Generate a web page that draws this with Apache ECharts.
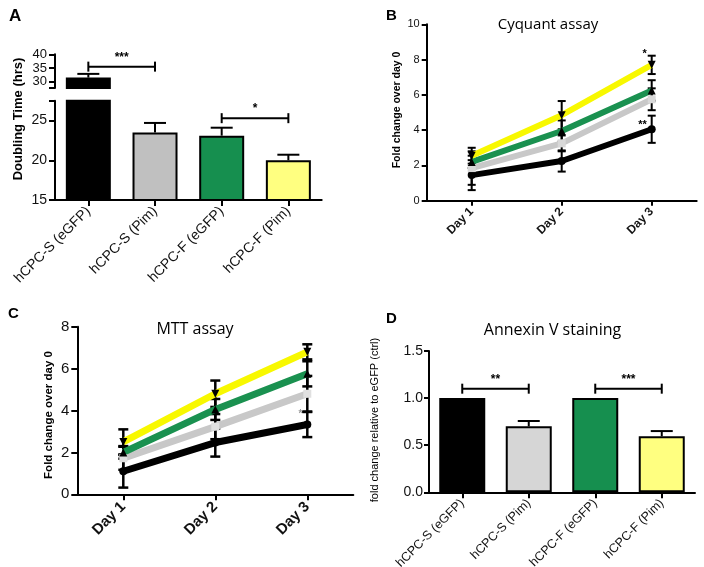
<!DOCTYPE html>
<html><head><meta charset="utf-8">
<script src="https://cdn.jsdelivr.net/npm/echarts@6/dist/echarts.min.js"></script>
<style>html,body{margin:0;padding:0;background:#fff}#c{width:704px;height:567px}</style>
</head><body><div id="c"></div>
<script>
// ---------- DATA ----------
const barCategories = ['hCPC-S (eGFP)', 'hCPC-S (Pim)', 'hCPC-F (eGFP)', 'hCPC-F (Pim)'];
const dayCategories = ['Day 1', 'Day 2', 'Day 3'];

// Panel A: doubling time (hrs)
const doublingTime = [31.5, 23.5, 23.1, 20.0];
const doublingErr = [1.35, 1.2, 1.0, 0.7];
const doublingUpperTicks = [30, 35, 40];
const doublingLowerTicks = [15, 20, 25];
const doublingSigPairs = [[0, 1], [2, 3]];
const doublingSigLevel = [35.5, 25.3];
const doublingSigText = ['***', '*'];

// Panel B: Cyquant assay
const cyqBlack = [1.45, 2.25, 4.05];
const cyqBlackErr = [0.85, 0.6, 0.77];
const cyqGrey = [1.85, 3.25, 5.75];
const cyqGreyErr = [0.95, 0.45, 0.62];
const cyqGreen = [2.2, 3.95, 6.25];
const cyqGreenErr = [0.35, 0.6, 0.58];
const cyqYellow = [2.55, 4.85, 7.7];
const cyqYellowErr = [0.45, 0.8, 0.52];
const cyqStars = [[2, 8.3, '*'], [2, 4.3, '**']];

// Panel C: MTT assay
const mttBlack = [1.1, 2.47, 3.33];
const mttBlackErr = [0.78, 0.67, 0.6];
const mttGrey = [1.72, 3.23, 4.8];
const mttGreyErr = [0.55, 0.6, 0.85];
const mttGreen = [2.0, 4.05, 5.75];
const mttGreenErr = [0.3, 0.5, 0.6];
const mttYellow = [2.5, 4.8, 6.8];
const mttYellowErr = [0.6, 0.63, 0.36];
const mttStars = [[2, 3.8, '*']];

// Panel D: Annexin V staining
const annexin = [1.0, 0.70, 1.0, 0.594];
const annexinErr = [0, 0.057, 0, 0.056];
const annexinSigPairs = [[0, 1], [2, 3]];
const annexinSigLevel = [1.1, 1.1];
const annexinSigText = ['**', '***'];

// ---------- STYLE ----------
const FONT = "'Liberation Sans', Arial, sans-serif";
const TFONT = "'Open Sans', 'Liberation Sans', sans-serif";
const barColorsA = ['#000000', '#c0c0c0', '#168f4f', '#ffff80'];
const barColorsD = ['#000000', '#d6d6d6', '#168f4f', '#ffff80'];
const C_BLACK = '#000000', C_GREY = '#c8c8c8', C_GREEN = '#1a9150', C_YELLOW = '#f8f800';

function errRender(capW, upOnly, lw) {
  return function (params, api) {
    const x = api.value(0), y = api.value(1), e = api.value(2);
    if (!e) return null;
    const hi = api.coord([x, y + e]);
    const lo = api.coord([x, upOnly ? y : y - e]);
    const st = { stroke: '#000', lineWidth: lw };
    const children = [
      { type: 'line', shape: { x1: hi[0], y1: hi[1], x2: lo[0], y2: lo[1] }, style: st },
      { type: 'line', shape: { x1: hi[0] - capW / 2, y1: hi[1], x2: hi[0] + capW / 2, y2: hi[1] }, style: st }
    ];
    if (!upOnly) children.push({ type: 'line', shape: { x1: lo[0] - capW / 2, y1: lo[1], x2: lo[0] + capW / 2, y2: lo[1] }, style: st });
    return { type: 'group', children };
  };
}
function errData(vals, errs, idx) {
  const out = [];
  vals.forEach((v, i) => { if (!idx || idx.indexOf(i) >= 0) out.push([i, v, errs[i]]); });
  return out;
}
function sigRender(texts, fs) {
  return function (params, api) {
    const a = api.coord([api.value(0), api.value(2)]);
    const b = api.coord([api.value(1), api.value(2)]);
    const st = { stroke: '#000', lineWidth: 2 };
    return { type: 'group', children: [
      { type: 'line', shape: { x1: a[0], y1: a[1], x2: b[0], y2: b[1] }, style: st },
      { type: 'line', shape: { x1: a[0], y1: a[1] - 5, x2: a[0], y2: a[1] + 5 }, style: st },
      { type: 'line', shape: { x1: b[0], y1: b[1] - 5, x2: b[0], y2: b[1] + 5 }, style: st },
      { type: 'text', x: (a[0] + b[0]) / 2, y: a[1] - 3, style: { text: texts[params.dataIndex], fill: '#000', font: 'bold ' + fs + 'px ' + FONT, textAlign: 'center', textVerticalAlign: 'bottom' } }
    ] };
  };
}
function starRender(list, color, fs) {
  return function (params, api) {
    const p = api.coord([api.value(0), api.value(1)]);
    return { type: 'text', x: p[0] - 5, y: p[1], style: { text: list[params.dataIndex][2], fill: color, font: 'bold ' + fs + 'px ' + FONT, textAlign: 'right', textVerticalAlign: 'middle' } };
  };
}
function lineSeries(data, color, width, symbol, rot, symColor, ax, z) {
  return { type: 'line', data, xAxisIndex: ax, yAxisIndex: ax, smooth: false,
    lineStyle: { color, width }, itemStyle: { color: symColor, borderWidth: 0 },
    symbol, symbolSize: 8, symbolRotate: rot, showSymbol: true, z, emphasis: { disabled: true }, animation: false };
}
function axisLineStyle() { return { show: true, lineStyle: { color: '#000', width: 2 } }; }

const grids = [
  { left: 55, top: 100.7, width: 266.7, height: 99.3 },   // A lower
  { left: 55, top: 54.3, width: 266.7, height: 33.7 },    // A upper
  { left: 426.7, top: 24.3, width: 270, height: 176.4 },  // B
  { left: 77.3, top: 326.7, width: 276, height: 167.6 },  // C
  { left: 429, top: 351, width: 266, height: 141.3 }      // D
].map(g => Object.assign({ containLabel: false, outerBoundsMode: 'none' }, g));

const xAxes = [
  { gridIndex: 0, type: 'category', data: barCategories, axisLine: axisLineStyle(),
    axisTick: { show: true, alignWithLabel: true, length: 6, lineStyle: { color: '#000', width: 2 } },
    axisLabel: { rotate: 45, margin: 9, fontSize: 14, color: '#111', fontFamily: FONT, interval: 0 } },
  { gridIndex: 1, type: 'category', data: barCategories, show: false },
  { gridIndex: 2, type: 'category', data: dayCategories, axisLine: axisLineStyle(),
    axisTick: { show: true, alignWithLabel: true, length: 5, lineStyle: { color: '#000', width: 2 } },
    axisLabel: { rotate: 45, margin: 9, fontSize: 12, fontWeight: 'bold', color: '#111', fontFamily: FONT, interval: 0 } },
  { gridIndex: 3, type: 'category', data: dayCategories, axisLine: axisLineStyle(),
    axisTick: { show: true, alignWithLabel: true, length: 6, lineStyle: { color: '#000', width: 2 } },
    axisLabel: { rotate: 45, margin: 10, fontSize: 15, fontWeight: 'bold', color: '#111', fontFamily: FONT, interval: 0 } },
  { gridIndex: 4, type: 'category', data: barCategories, axisLine: axisLineStyle(),
    axisTick: { show: true, alignWithLabel: true, length: 6, lineStyle: { color: '#000', width: 2 } },
    axisLabel: { rotate: 45, margin: 9, fontSize: 12.5, color: '#111', fontFamily: FONT, interval: 0 } }
];
const yTick = (len) => ({ show: true, length: len, lineStyle: { color: '#000', width: 2 } });
const yAxes = [
  { gridIndex: 0, type: 'value', min: 15, max: 27.5, splitLine: { show: false }, axisLine: axisLineStyle(),
    axisTick: Object.assign(yTick(6), { customValues: doublingLowerTicks.concat([27.5]) }),
    axisLabel: { customValues: doublingLowerTicks, fontSize: 14, color: '#111', fontFamily: FONT, margin: 8, hideOverlap: false } },
  { gridIndex: 1, type: 'value', min: 27.7, max: 40, splitLine: { show: false }, axisLine: axisLineStyle(),
    axisTick: Object.assign(yTick(6), { customValues: [27.7].concat(doublingUpperTicks) }),
    axisLabel: { customValues: doublingUpperTicks, fontSize: 13, lineHeight: 12, color: '#111', fontFamily: FONT, margin: 8,
      hideOverlap: false, showMinLabel: true, showMaxLabel: true } },
  { gridIndex: 2, type: 'value', min: 0, max: 10, interval: 2, splitLine: { show: false }, axisLine: axisLineStyle(),
    axisTick: yTick(5), axisLabel: { fontSize: 11, color: '#111', fontFamily: FONT, margin: 7 } },
  { gridIndex: 3, type: 'value', min: 0, max: 8, interval: 2, splitLine: { show: false }, axisLine: axisLineStyle(),
    axisTick: yTick(6), axisLabel: { fontSize: 15, color: '#111', fontFamily: FONT, margin: 8 } },
  { gridIndex: 4, type: 'value', min: 0, max: 1.5, interval: 0.5, splitLine: { show: false }, axisLine: axisLineStyle(),
    axisTick: yTick(5), axisLabel: { fontSize: 14, color: '#111', fontFamily: FONT, margin: 6, formatter: v => v.toFixed(1) } }
];

const series = [
  // Panel A bars (lower + upper segment)
  { type: 'bar', xAxisIndex: 0, yAxisIndex: 0, barWidth: 45, clip: true, animation: false,
    data: doublingTime.map((v, i) => ({ value: v, itemStyle: { color: barColorsA[i], borderColor: '#000', borderWidth: 2 } })) },
  { type: 'bar', xAxisIndex: 1, yAxisIndex: 1, barWidth: 45, clip: true, animation: false,
    data: doublingTime.map((v, i) => i === 0 ? ({ value: v, itemStyle: { color: barColorsA[i], borderColor: '#000', borderWidth: 2 } }) : '-') },
  { type: 'custom', xAxisIndex: 0, yAxisIndex: 0, renderItem: errRender(22, true, 2), data: errData(doublingTime, doublingErr, [1, 2, 3]), z: 1, animation: false },
  { type: 'custom', xAxisIndex: 1, yAxisIndex: 1, renderItem: errRender(22, true, 2), data: errData(doublingTime, doublingErr, [0]), z: 1, animation: false },
  { type: 'custom', xAxisIndex: 1, yAxisIndex: 1, renderItem: sigRender([doublingSigText[0]], 12), data: [[doublingSigPairs[0][0], doublingSigPairs[0][1], doublingSigLevel[0]]], animation: false, clip: false },
  { type: 'custom', xAxisIndex: 0, yAxisIndex: 0, renderItem: sigRender([doublingSigText[1]], 12), data: [[doublingSigPairs[1][0], doublingSigPairs[1][1], doublingSigLevel[1]]], animation: false },

  // Panel B lines
  { type: 'custom', xAxisIndex: 2, yAxisIndex: 2, renderItem: errRender(8, false, 2), data: errData(cyqBlack, cyqBlackErr), z: 2, animation: false },
  { type: 'custom', xAxisIndex: 2, yAxisIndex: 2, renderItem: errRender(8, false, 2), data: errData(cyqGrey, cyqGreyErr), z: 2, animation: false },
  { type: 'custom', xAxisIndex: 2, yAxisIndex: 2, renderItem: errRender(8, false, 2), data: errData(cyqGreen, cyqGreenErr), z: 2, animation: false },
  { type: 'custom', xAxisIndex: 2, yAxisIndex: 2, renderItem: errRender(8, false, 2), data: errData(cyqYellow, cyqYellowErr), z: 2, animation: false },
  lineSeries(cyqBlack, C_BLACK, 6, 'circle', 0, '#000', 2, 3),
  lineSeries(cyqGrey, C_GREY, 6, 'rect', 0, '#d8d8d8', 2, 3),
  lineSeries(cyqGreen, C_GREEN, 6, 'triangle', 0, '#000', 2, 3),
  lineSeries(cyqYellow, C_YELLOW, 6, 'triangle', 180, '#000', 2, 3),
  { type: 'custom', xAxisIndex: 2, yAxisIndex: 2, renderItem: starRender(cyqStars, '#000', 11), data: cyqStars.map(s => [s[0], s[1]]), z: 5, animation: false },

  // Panel C lines
  { type: 'custom', xAxisIndex: 3, yAxisIndex: 3, renderItem: errRender(10, false, 2.5), data: errData(mttBlack, mttBlackErr), z: 2, animation: false },
  { type: 'custom', xAxisIndex: 3, yAxisIndex: 3, renderItem: errRender(10, false, 2.5), data: errData(mttGrey, mttGreyErr), z: 2, animation: false },
  { type: 'custom', xAxisIndex: 3, yAxisIndex: 3, renderItem: errRender(10, false, 2.5), data: errData(mttGreen, mttGreenErr), z: 2, animation: false },
  { type: 'custom', xAxisIndex: 3, yAxisIndex: 3, renderItem: errRender(10, false, 2.5), data: errData(mttYellow, mttYellowErr), z: 2, animation: false },
  lineSeries(mttBlack, C_BLACK, 7, 'circle', 0, '#000', 3, 3),
  lineSeries(mttGrey, C_GREY, 7, 'rect', 0, '#e0e0e0', 3, 3),
  lineSeries(mttGreen, C_GREEN, 7, 'triangle', 0, '#000', 3, 3),
  lineSeries(mttYellow, C_YELLOW, 7, 'triangle', 180, '#000', 3, 3),
  { type: 'custom', xAxisIndex: 3, yAxisIndex: 3, renderItem: starRender(mttStars, '#999', 10), data: mttStars.map(s => [s[0], s[1]]), z: 5, animation: false },

  // Panel D bars
  { type: 'bar', xAxisIndex: 4, yAxisIndex: 4, barWidth: 46, animation: false,
    data: annexin.map((v, i) => ({ value: v, itemStyle: { color: barColorsD[i], borderColor: '#000', borderWidth: 2 } })) },
  { type: 'custom', xAxisIndex: 4, yAxisIndex: 4, renderItem: errRender(22, true, 2), data: errData(annexin, annexinErr, [1, 3]), z: 1, animation: false },
  { type: 'custom', xAxisIndex: 4, yAxisIndex: 4, renderItem: sigRender(annexinSigText, 12),
    data: annexinSigPairs.map((p, i) => [p[0], p[1], annexinSigLevel[i]]), animation: false }
];

const txt = (text, x, y, font, opts) => Object.assign({ type: 'text', x, y, style: Object.assign({ text, font, fill: '#000' }, opts || {}) });
const graphic = [
  txt('A', 9, 8, 'bold 17px ' + FONT),
  txt('B', 386, 8, 'bold 15px ' + FONT),
  txt('C', 8, 306, 'bold 15px ' + FONT),
  txt('D', 386, 311, 'bold 15px ' + FONT),
  txt('Cyquant assay', 548, 25, '15px ' + TFONT, { textAlign: 'center', textVerticalAlign: 'middle' }),
  txt('MTT assay', 195, 329, '16px ' + TFONT, { textAlign: 'center', textVerticalAlign: 'middle' }),
  txt('Annexin V staining', 552.5, 330, '16px ' + TFONT, { textAlign: 'center', textVerticalAlign: 'middle' }),
  Object.assign(txt('Doubling Time (hrs)', 18.5, 119, 'bold 13px ' + FONT, { textAlign: 'center', textVerticalAlign: 'middle' }), { rotation: Math.PI / 2 }),
  Object.assign(txt('Fold change over day 0', 397, 110, 'bold 10.5px ' + FONT, { textAlign: 'center', textVerticalAlign: 'middle' }), { rotation: Math.PI / 2 }),
  Object.assign(txt('Fold change over day 0', 48.5, 415, 'bold 11.5px ' + FONT, { textAlign: 'center', textVerticalAlign: 'middle' }), { rotation: Math.PI / 2 }),
  Object.assign(txt('fold change relative to eGFP (ctrl)', 375, 420, '11px ' + FONT, { textAlign: 'center', textVerticalAlign: 'middle' }), { rotation: Math.PI / 2 })
];

const chart = echarts.init(document.getElementById('c'), null, { renderer: 'canvas' });
chart.setOption({ backgroundColor: '#fff', animation: false, grid: grids, xAxis: xAxes, yAxis: yAxes, series, graphic });
</script></body></html>
